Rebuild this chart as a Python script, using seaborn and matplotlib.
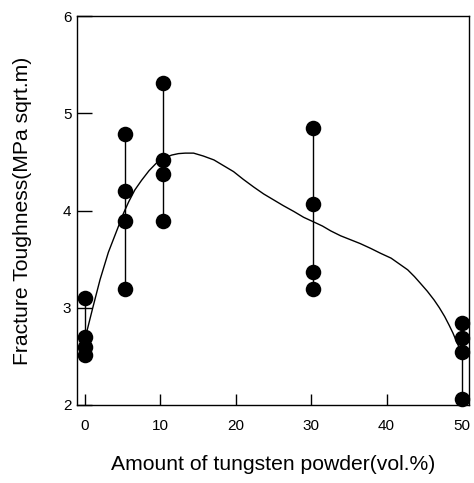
import matplotlib
matplotlib.use("Agg")
import matplotlib.pyplot as plt
import seaborn as sns
import pandas as pd

# Measured data (x position as drawn, fracture toughness)
tungsten_vol = [0.0, 0.0, 0.0, 0.0,
                5.3, 5.3, 5.3, 5.3,
                10.4, 10.4, 10.4, 10.4,
                30.3, 30.3, 30.3, 30.3,
                50.0, 50.0, 50.0, 50.0]
toughness = [3.10, 2.70, 2.60, 2.51,
             4.79, 4.20, 3.89, 3.19,
             5.31, 4.52, 4.38, 3.89,
             4.85, 4.07, 3.37, 3.19,
             2.84, 2.69, 2.54, 2.06]

# Fitted trend curve
curve_x = [0.0, 1.0, 2.0, 3.1, 3.8, 4.4, 5.1, 5.8, 6.6, 7.5, 8.5, 9.5, 10.5,
           11.5, 12.4, 13.3, 14.4, 15.7, 17.1, 18.4, 19.7, 21.0, 22.4, 23.7,
           25.0, 26.3, 27.7, 29.0, 30.4, 31.5, 32.6, 33.9, 35.2, 36.5, 37.9,
           39.2, 40.6, 41.7, 42.8, 43.7, 44.5, 45.4, 46.3, 47.0, 47.7, 48.3,
           48.8, 49.4, 49.9]
curve_y = [2.68, 2.99, 3.29, 3.57, 3.71, 3.83, 3.97, 4.09, 4.21, 4.31, 4.41, 4.49, 4.54,
           4.57, 4.585, 4.59, 4.59, 4.56, 4.52, 4.46, 4.40, 4.32, 4.24, 4.17,
           4.11, 4.05, 3.99, 3.93, 3.88, 3.84, 3.79, 3.74, 3.70, 3.66, 3.61,
           3.56, 3.51, 3.45, 3.39, 3.32, 3.25, 3.17, 3.08, 3.00, 2.91, 2.82,
           2.74, 2.63, 2.55]

x_ticks = [0, 10, 20, 30, 40, 50]
y_ticks = [2, 3, 4, 5, 6]

sns.set_style("ticks")
plt.rcParams['font.family'] = ['Liberation Sans', 'DejaVu Sans']

df = pd.DataFrame({"x": tungsten_vol, "y": toughness})
curve = pd.DataFrame({"x": curve_x, "y": curve_y})

W, H = 474, 483
fig = plt.figure(figsize=(W / 100, H / 100), dpi=100)
ax = fig.add_axes([77 / W, 1 - 405 / H, (469 - 77) / W, (405 - 16) / H])

# vertical range lines per composition
rng = df.groupby("x")["y"].agg(["min", "max"]).reset_index()
ax.vlines(rng["x"], rng["min"], rng["max"], colors="black", linewidth=1.0, zorder=2)

sns.lineplot(data=curve, x="x", y="y", sort=False, color="black", linewidth=1.0,
             ax=ax, zorder=3)
sns.scatterplot(data=df, x="x", y="y", color="black", s=125, edgecolor="black",
                linewidth=0, ax=ax, zorder=4, clip_on=False)

ax.set_xlim(-1.06, 50.93)
ax.set_ylim(2, 6)
ax.set_xticks(x_ticks)
ax.set_yticks(y_ticks)
ax.set_xticklabels([str(v) for v in x_ticks])
ax.set_yticklabels([str(v) for v in y_ticks])

for s in ax.spines.values():
    s.set_visible(True)
    s.set_linewidth(1.0)
    s.set_color("black")

ax.tick_params(axis="x", direction="in", length=8, width=1.0, labelsize=11, pad=10,
               colors="black")
ax.tick_params(axis="y", direction="in", length=11, width=1.0, labelsize=11, pad=4,
               colors="black")

ax.set_xlabel("Amount of tungsten powder(vol.%)", fontsize=15.2, color="black")
ax.set_ylabel("Fracture Toughness(MPa sqrt.m)", fontsize=15.2, color="black")
ax.xaxis.set_label_coords(0.5, -0.128)
ax.yaxis.set_label_coords(-0.115, 0.5)

fig.savefig("out.png", dpi=100)
